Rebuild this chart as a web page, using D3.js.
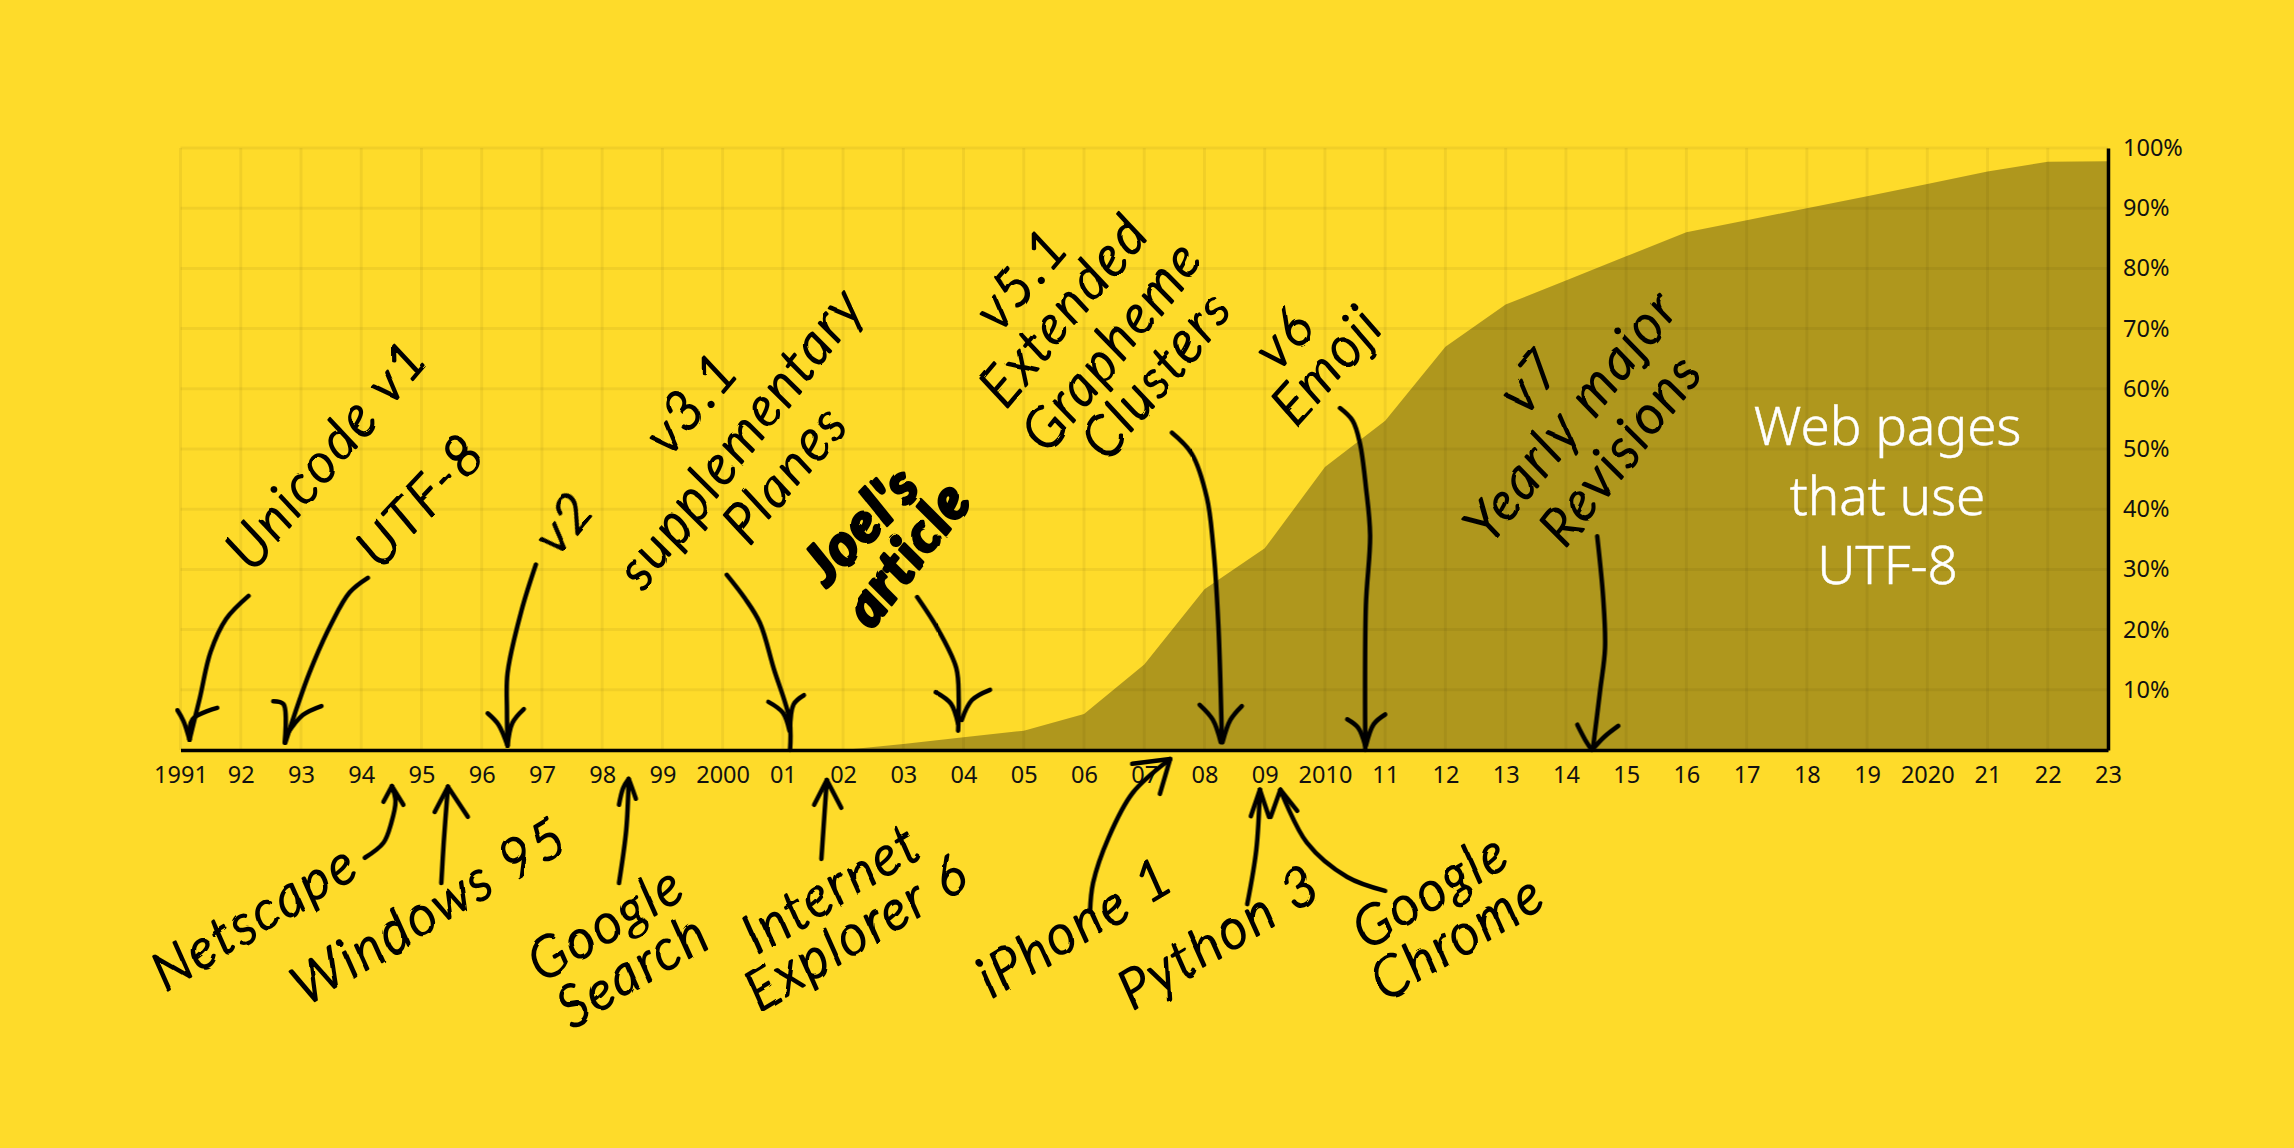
<!DOCTYPE html>
<html>
<head>
<meta charset="utf-8">
<title>Web pages that use UTF-8</title>
<script src="https://cdnjs.cloudflare.com/ajax/libs/d3/7.8.5/d3.min.js"></script>
<style>
  html, body { margin: 0; padding: 0; background: #fedb2a; overflow: hidden; }
  svg { display: block; }
  .tick text { font-family: "Noto Sans", sans-serif; font-size: 23.5px; fill: #111; }
  .hand { font-family: Lato, sans-serif; font-style: italic; font-weight: 300; font-size: 54px; letter-spacing: 3px; fill: #000; stroke: #000; stroke-width: 2.2px; stroke-linejoin: round; text-anchor: middle; }
  .hand.bold { font-weight: 900; stroke-width: 3px; font-size: 56px; letter-spacing: 2px; }
  .arrow { fill: none; stroke: #000; stroke-width: 4.5px; stroke-linecap: round; stroke-linejoin: round; }
  .big { font-family: "Noto Sans", sans-serif; font-weight: 300; font-size: 53px; fill: #fff; stroke: #fff; stroke-width: 0.5px; text-anchor: middle; }
</style>
</head>
<body>
<div id="chart"></div>
<script>
var xTickYears = [1991, 1992, 1993, 1994, 1995, 1996, 1997, 1998, 1999, 2000, 2001, 2002, 2003, 2004, 2005, 2006, 2007, 2008, 2009, 2010, 2011, 2012, 2013, 2014, 2015, 2016, 2017, 2018, 2019, 2020, 2021, 2022, 2023];
var xTickLabels = ["1991", "92", "93", "94", "95", "96", "97", "98", "99", "2000", "01", "02", "03", "04", "05", "06", "07", "08", "09", "2010", "11", "12", "13", "14", "15", "16", "17", "18", "19", "2020", "21", "22", "23"];
var yTicks = [10, 20, 30, 40, 50, 60, 70, 80, 90, 100];

var shareYears = [2002, 2003, 2004, 2005, 2006, 2007, 2008, 2009, 2010, 2011, 2012, 2013, 2014, 2015, 2016, 2017, 2018, 2019, 2020, 2021, 2022, 2023];
var shareValues = [0, 1, 2.1, 3.2, 6, 14.2, 26.7, 33.5, 47, 54.7, 67, 74, 78, 82, 86, 88, 90, 92, 94, 96.1, 97.7, 97.8];

var bigLabel = ["Web pages", "that use", "UTF-8"];
var bigLabelYear = 2019.34;
var bigLabelPct = [50.6, 39, 27.5];

// label text, year, percent, angle, bold. percent goes below zero under the axis
var topLabels = [
  ["Unicode v1", 1993.43, 49.3, -50],
  ["UTF-8", 1994.99, 41.5, -47],
  ["v2", 1997.36, 37.9, -50],
  ["v3.1", 1999.48, 57.8, -50],
  ["supplementary", 2000.29, 52, -52],
  ["Planes", 2001.03, 46.1, -50],
  ["Joel's", 2002.3, 37.5, -46, true],
  ["article", 2003.06, 32.7, -52, true],
  ["v5.1", 2004.96, 78.4, -50],
  ["Extended", 2005.66, 73.2, -50],
  ["Grapheme", 2006.46, 67.3, -51],
  ["Clusters", 2007.21, 62.5, -50],
  ["v6", 2009.32, 68.6, -48],
  ["Emoji", 2010.03, 64, -48],
  ["v7", 2013.41, 61.6, -50],
  ["Yearly major", 2014.09, 55.6, -51],
  ["Revisions", 2014.91, 50, -52]
];
var bottomLabels = [
  ["Netscape", 1992.22, -27.7, -31],
  ["Windows 95", 1995.13, -26.6, -31],
  ["Google", 1998.06, -28.7, -31],
  ["Search", 1998.51, -36.5, -31],
  ["Internet", 2001.8, -22.9, -31],
  ["Explorer 6", 2002.23, -30.2, -31],
  ["iPhone 1", 2005.85, -29.3, -31],
  ["Python 3", 2008.24, -31, -31],
  ["Google", 2011.75, -23.3, -31],
  ["Chrome", 2012.2, -31, -31]
];

// each arrow is a shaft and two barbs, all as [year, percent]
var arrows = [
  [[[1992.13, 25.6], [1991.76, 21.8], [1991.5, 16.3], [1991.32, 8.6], [1991.15, 1.7]],
   [[1990.95, 6.6], [1991.05, 4.8], [1991.15, 1.7]], [[1991.61, 7], [1991.2, 5.1], [1991.15, 1.7]]],
  [[[1994.11, 28.6], [1993.81, 26.2], [1993.51, 21.1], [1993.14, 12.8], [1992.74, 1.2]],
   [[1992.54, 8.1], [1992.71, 7.6], [1992.73, 1.2]], [[1993.34, 7.3], [1993.03, 5.8], [1992.76, 2.5]]],
  [[[1996.9, 30.8], [1996.66, 23.1], [1996.43, 12.8], [1996.42, 6.6], [1996.43, 0.7]],
   [[1996.1, 6.1], [1996.28, 4.2], [1996.43, 0.7]], [[1996.7, 6.8], [1996.51, 4.5], [1996.43, 0.7]]],
  [[[2000.07, 29.1], [2000.37, 25.2], [2000.62, 21.1], [2000.85, 13.5], [2001.11, 5.1], [2001.12, 0]],
   [[2000.76, 8], [2001, 6.2], [2001.11, 3.2]], [[2001.35, 9.1], [2001.18, 7.6], [2001.12, 3.2]]],
  [[[2003.23, 25.4], [2003.59, 19.8], [2003.88, 13.6], [2003.92, 8.6], [2003.91, 3.2]],
   [[2003.54, 9.6], [2003.79, 7.7], [2003.91, 4.3]], [[2004.44, 10], [2004.14, 8.3], [2003.97, 5]]],
  [[[2007.46, 52.7], [2007.79, 49.2], [2008.04, 41.9], [2008.14, 34.4], [2008.23, 20.9], [2008.29, 1.3]],
   [[2007.92, 7.5], [2008.14, 5], [2008.27, 1.3]], [[2008.62, 7.3], [2008.43, 5], [2008.3, 1.3]]],
  [[[2010.25, 56.8], [2010.46, 54.7], [2010.58, 51], [2010.68, 43.7], [2010.75, 35.7], [2010.68, 24], [2010.67, 0]],
   [[2010.37, 5.1], [2010.55, 3.7], [2010.67, 0.7]], [[2011, 5.9], [2010.81, 4.3], [2010.68, 0.7]]],
  [[[2014.52, 35.5], [2014.62, 25.2], [2014.65, 16.9], [2014.57, 10], [2014.45, 0.3]],
   [[2014.19, 4.2], [2014.32, 1.7], [2014.43, 0]], [[2014.87, 4], [2014.64, 2.2], [2014.45, 0.2]]],
  [[[1994.06, -17.9], [1994.37, -15.4], [1994.5, -12.1], [1994.57, -8.5], [1994.51, -6]],
   [[1994.37, -8.6], [1994.51, -6]], [[1994.7, -9.1], [1994.51, -6]]],
  [[[1995.33, -22.1], [1995.37, -15.4], [1995.44, -6.1]],
   [[1995.22, -10.3], [1995.44, -6.1]], [[1995.77, -11.1], [1995.44, -6.1]]],
  [[[1998.28, -22.1], [1998.4, -13.3], [1998.44, -5]],
   [[1998.28, -9.1], [1998.35, -6.3], [1998.44, -4.8]], [[1998.56, -8.1], [1998.49, -6.1], [1998.44, -4.8]]],
  [[[2001.64, -18.1], [2001.73, -5]],
   [[2001.52, -9.1], [2001.73, -5]], [[2001.97, -9.6], [2001.73, -5]]],
  [[[2006.1, -26.9], [2006.15, -22.1], [2006.41, -14.5], [2006.81, -7.1], [2007.43, -1.5]],
   [[2006.8, -2.3], [2007.43, -1.5]], [[2007.26, -7.3], [2007.43, -1.5]]],
  [[[2008.71, -25.6], [2008.86, -16.6], [2008.92, -6.6]],
   [[2008.77, -11], [2008.92, -6.6]], [[2009.07, -11.1], [2008.92, -6.6]]],
  [[[2011, -23.4], [2010.37, -21.1], [2009.7, -15.4], [2009.26, -6.6]],
   [[2009.1, -11.1], [2009.26, -6.6]], [[2009.54, -10.1], [2009.26, -6.6]]]
];

var margin = { top: 148, right: 186, bottom: 398, left: 180.5 };
var outerWidth = 2294;
var outerHeight = 1148;
var width = outerWidth - margin.left - margin.right;
var height = outerHeight - margin.top - margin.bottom;

var root = d3.select("#chart")
  .append("svg")
  .attr("width", outerWidth)
  .attr("height", outerHeight);

root.append("rect")
  .attr("width", outerWidth)
  .attr("height", outerHeight)
  .attr("fill", "#fedb2a");

var defs = root.append("defs");
var wobble = defs.append("filter")
  .attr("id", "wobble")
  .attr("x", "-5%").attr("y", "-5%")
  .attr("width", "110%").attr("height", "110%");
wobble.append("feTurbulence")
  .attr("type", "fractalNoise")
  .attr("baseFrequency", 0.03)
  .attr("numOctaves", 2)
  .attr("seed", 4)
  .attr("result", "noise");
wobble.append("feDisplacementMap")
  .attr("in", "SourceGraphic")
  .attr("in2", "noise")
  .attr("scale", 5);

var svg = root.append("g")
  .attr("transform", "translate(" + margin.left + "," + margin.top + ")");

var x = d3.scaleLinear().domain([1991, 2023]).range([0, width]);
var y = d3.scaleLinear().domain([0, 100]).range([height, 0]);

// grid
svg.append("g").selectAll("line")
  .data(xTickYears)
  .enter()
  .append("line")
  .attr("x1", function(d) { return x(d); })
  .attr("x2", function(d) { return x(d); })
  .attr("y1", 0)
  .attr("y2", height)
  .attr("stroke", "#000")
  .attr("stroke-opacity", 0.05)
  .attr("stroke-width", 3);

svg.append("g").selectAll("line")
  .data([0].concat(yTicks))
  .enter()
  .append("line")
  .attr("x1", 0)
  .attr("x2", width)
  .attr("y1", function(d) { return y(d); })
  .attr("y2", function(d) { return y(d); })
  .attr("stroke", "#000")
  .attr("stroke-opacity", 0.05)
  .attr("stroke-width", 3);

// area
var area = d3.area()
  .x(function(d, i) { return x(shareYears[i]); })
  .y0(height)
  .y1(function(d) { return y(d); });

svg.append("path")
  .datum(shareValues)
  .attr("fill", "#000")
  .attr("fill-opacity", 0.31)
  .attr("d", area);

// axes
var xAxis = svg.append("g")
  .attr("transform", "translate(0," + height + ")")
  .call(d3.axisBottom(x)
    .tickValues(xTickYears)
    .tickSize(0)
    .tickPadding(16)
    .tickFormat(function(d, i) { return xTickLabels[i]; }));

xAxis.select(".domain")
  .attr("stroke", "#000")
  .attr("stroke-width", 3.5);

var yAxis = svg.append("g")
  .attr("transform", "translate(" + width + ",0)")
  .call(d3.axisRight(y)
    .tickValues(yTicks)
    .tickSize(0)
    .tickPadding(15)
    .tickFormat(function(d) { return d + "%"; }));

yAxis.select(".domain")
  .attr("stroke", "#000")
  .attr("stroke-width", 3.5);

// big label inside the area
svg.append("g").selectAll("text")
  .data(bigLabel)
  .enter()
  .append("text")
  .attr("class", "big")
  .attr("x", x(bigLabelYear))
  .attr("y", function(d, i) { return y(bigLabelPct[i]); })
  .text(function(d) { return d; });

// hand written notes
svg.append("g")
  .attr("filter", "url(#wobble)")
  .selectAll("text")
  .data(topLabels.concat(bottomLabels))
  .enter()
  .append("text")
  .attr("class", function(d) { return d[4] ? "hand bold" : "hand"; })
  .attr("dy", "0.35em")
  .attr("transform", function(d) { return "translate(" + x(d[1]) + "," + y(d[2]) + ") rotate(" + d[3] + ")"; })
  .text(function(d) { return d[0]; });

var arrowLine = d3.line()
  .x(function(d) { return x(d[0]); })
  .y(function(d) { return y(d[1]); })
  .curve(d3.curveCatmullRom);

arrows.forEach(function(a) {
  svg.append("g").selectAll("path")
    .data(a)
    .enter()
    .append("path")
    .attr("class", "arrow")
    .attr("d", arrowLine);
});
</script>
</body>
</html>
